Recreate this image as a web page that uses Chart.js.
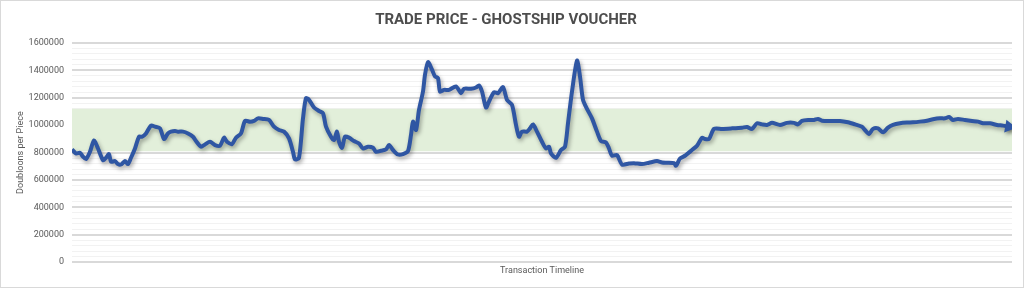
<!DOCTYPE html>
<html>
<head>
<meta charset="utf-8">
<script src="https://cdn.jsdelivr.net/npm/chart.js@4/dist/chart.umd.min.js"></script>
<style>
  html, body { margin: 0; padding: 0; background: #fff; }
  #wrap { position: relative; width: 1024px; height: 288px; }
  #frame { position: absolute; left: 0; top: 0; width: 1024px; height: 288px; box-sizing: border-box; border: 1px solid #d9d9d9; pointer-events: none; }
</style>
</head>
<body>
<div id="wrap">
  <canvas id="priceChart" width="1024" height="288"></canvas>
  <div id="frame"></div>
</div>
<script>
// transaction number along the timeline and the traded price
const transactions = [
  0, 4, 8, 11, 14, 18, 22, 26, 31, 34, 37, 39, 43, 46, 49, 53, 56, 59, 63, 67,
  70, 74, 79, 83, 88, 92, 96, 99, 103, 106, 111, 116, 121, 124, 129, 133, 138, 143, 148, 152,
  155, 160, 164, 169, 173, 178, 182, 186, 191, 197, 202, 207, 212, 217, 221, 223, 227, 231, 234, 237,
  242, 247, 251, 254, 259, 262, 265, 267, 270, 273, 277, 282, 287, 291, 296, 301, 304, 309, 314, 317,
  321, 326, 331, 336, 339, 341, 344, 347, 351, 353, 356, 360, 363, 366, 368, 372, 377, 384, 389, 392,
  399, 404, 407, 410, 414, 417, 422, 426, 431, 435, 440, 444, 447, 450, 455, 458, 461, 465, 470, 474,
  477, 479, 484, 489, 493, 496, 500, 505, 508, 511, 515, 520, 525, 529, 534, 537, 540, 545, 550, 557,
  562, 570, 577, 585, 590, 595, 602, 604, 608, 613, 620, 625, 630, 633, 637, 642, 650, 660, 670, 675,
  680, 685, 690, 695, 700, 708, 715, 722, 726, 730, 737, 742, 746, 750, 758, 768, 776, 783, 790, 793,
  797, 801, 806, 811, 816, 821, 828, 835, 841, 848, 855, 861, 868, 873, 877, 881, 886, 893, 900, 906,
  911, 918, 925, 931, 937
];
const prices = [
  823000, 794000, 799000, 770000, 753000, 806000, 889000, 830000, 745000, 762000, 789000, 733000, 738000, 716000, 713000, 738000, 716000, 762000, 830000, 916000,
  916000, 940000, 997000, 989000, 977000, 899000, 940000, 953000, 958000, 953000, 953000, 940000, 916000, 884000, 843000, 860000, 879000, 855000, 850000, 909000,
  879000, 862000, 909000, 940000, 1031000, 1026000, 1031000, 1050000, 1046000, 1038000, 989000, 965000, 953000, 904000, 806000, 750000, 762000, 1050000, 1197000, 1185000,
  1129000, 1104000, 1087000, 989000, 916000, 892000, 953000, 879000, 835000, 916000, 909000, 884000, 867000, 830000, 843000, 835000, 806000, 814000, 823000, 855000,
  819000, 786000, 789000, 811000, 929000, 1026000, 965000, 1112000, 1246000, 1368000, 1461000, 1405000, 1356000, 1343000, 1246000, 1258000, 1258000, 1283000, 1234000, 1266000,
  1266000, 1275000, 1290000, 1246000, 1129000, 1173000, 1241000, 1234000, 1278000, 1185000, 1148000, 1002000, 916000, 953000, 953000, 977000, 1006000, 953000, 879000, 830000,
  843000, 794000, 762000, 819000, 843000, 1014000, 1246000, 1471000, 1356000, 1185000, 1119000, 1050000, 953000, 884000, 874000, 830000, 777000, 782000, 713000, 720000,
  723000, 716000, 726000, 738000, 728000, 726000, 723000, 704000, 757000, 777000, 819000, 850000, 909000, 899000, 899000, 973000, 973000, 977000, 982000, 987000,
  973000, 1014000, 1006000, 1002000, 1017000, 1002000, 1017000, 1017000, 1006000, 1031000, 1038000, 1038000, 1046000, 1033000, 1031000, 1031000, 1021000, 1006000, 989000, 965000,
  936000, 973000, 977000, 948000, 982000, 1002000, 1014000, 1019000, 1021000, 1026000, 1033000, 1043000, 1050000, 1050000, 1060000, 1038000, 1046000, 1038000, 1031000, 1026000,
  1014000, 1014000, 1002000, 997000, 989000
];
// shaded target band
const bandLow = 810000;
const bandHigh = 1120000;
const timelineEnd = 940;
const yTicksMajor = 200000;
const yTicksMinor = 40000;

const FONT = '"Liberation Sans Narrow", "Roboto", sans-serif';

// soft drop shadow under the price line, like the spreadsheet original
const lineShadow = {
  id: 'lineShadow',
  beforeDatasetDraw(chart, args) {
    if (args.index !== 0) return;
    const ctx = chart.ctx;
    ctx.save();
    ctx.shadowColor = 'rgba(0,0,0,0.35)';
    ctx.shadowBlur = 4;
    ctx.shadowOffsetX = 1.5;
    ctx.shadowOffsetY = 2.5;
  },
  afterDatasetDraw(chart, args) {
    if (args.index !== 0) return;
    chart.ctx.restore();
  }
};

const last = prices.length - 1;

new Chart(document.getElementById('priceChart'), {
  type: 'line',
  data: {
    datasets: [
      {
        label: 'Price',
        data: transactions.map((t, i) => ({ x: t, y: prices[i] })),
        borderColor: '#2F56A3',
        borderWidth: 4,
        tension: 0.25,
        pointRadius: ctx => ctx.dataIndex === last ? 3.5 : 0,
        pointStyle: 'triangle',
        rotation: 100,
        pointBackgroundColor: '#2F56A3',
        pointBorderColor: '#2F56A3',
        fill: false
      },
      {
        label: 'low',
        data: [{ x: 0, y: bandLow }, { x: timelineEnd, y: bandLow }],
        borderWidth: 0,
        pointRadius: 0,
        fill: false
      },
      {
        label: 'high',
        data: [{ x: 0, y: bandHigh }, { x: timelineEnd, y: bandHigh }],
        borderWidth: 0,
        pointRadius: 0,
        backgroundColor: '#E2EFDA',
        fill: '-1'
      }
    ]
  },
  options: {
    responsive: false,
    animation: false,
    layout: { padding: { left: 0, right: 12, top: 0, bottom: 11.5 } },
    plugins: {
      legend: { display: false },
      tooltip: { enabled: false },
      title: {
        display: true,
        text: 'TRADE PRICE - GHOSTSHIP VOUCHER',
        color: '#4D4D4D',
        font: { family: FONT, size: 15, weight: 'bold' },
        padding: { top: 11, bottom: 14 }
      }
    },
    scales: {
      x: {
        type: 'linear',
        min: 0,
        max: timelineEnd,
        grid: { display: false, drawTicks: false },
        border: { display: false },
        ticks: { display: false },
        title: {
          display: true,
          text: 'Transaction Timeline',
          color: '#595959',
          font: { family: FONT, size: 9 },
          padding: { top: 3.5, bottom: 0 }
        }
      },
      y: {
        min: 0,
        max: 1600000,
        afterFit: s => { s.width = 72; },
        border: { display: false },
        grid: {
          drawTicks: false,
          color: ctx => ctx.tick && ctx.tick.value % yTicksMajor === 0 ? '#D9D9D9' : '#F2F2F2',
          lineWidth: ctx => ctx.tick && ctx.tick.value % yTicksMajor === 0 ? 2 : 1
        },
        ticks: {
          stepSize: yTicksMinor,
          autoSkip: false,
          padding: 8,
          color: '#595959',
          font: { family: FONT, size: 9 },
          callback: v => v % yTicksMajor === 0 ? String(v) : ''
        },
        title: {
          display: true,
          text: 'Doubloons per Piece',
          color: '#595959',
          font: { family: FONT, size: 9 },
          padding: { top: 15, bottom: 0 }
        }
      }
    }
  },
  plugins: [lineShadow]
});
</script>
</body>
</html>
